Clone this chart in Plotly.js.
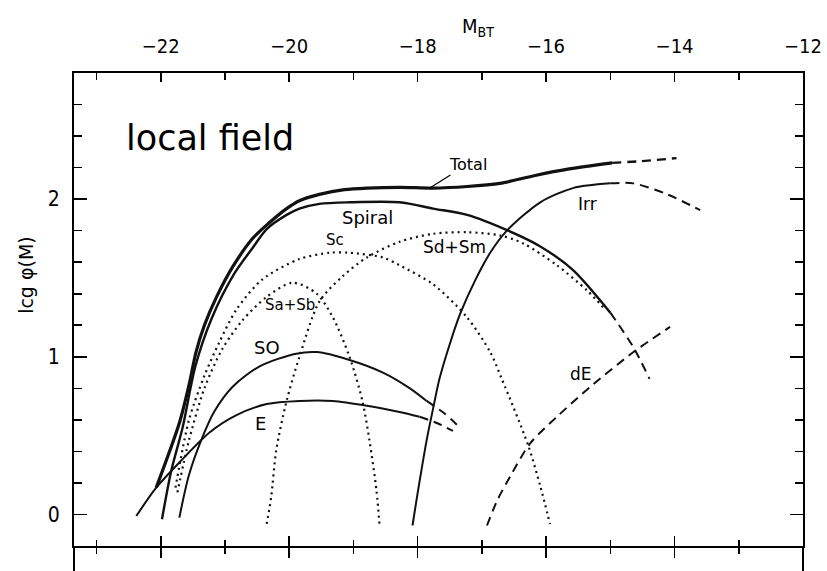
<!DOCTYPE html>
<html>
<head>
<meta charset="utf-8">
<script src="https://cdn.plot.ly/plotly-3.0.1.min.js"></script>
<style>
  html, body { margin: 0; padding: 0; background: #fff; }
  #chart { width: 827px; height: 571px; }
</style>
</head>
<body>
<div id="chart"></div>
<script>
// ---- data ----
const total_x = [-22.07,-21.71,-21.56,-21.45,-21.32,-21.13,-20.88,-20.57,-20.31,-20.04,-19.84,-19.53,-19.14,-18.79,-18.28,-17.76,-17.23,-16.72,-16.17,-15.66,-14.97];
const total_y = [0.17,0.58,0.82,1.03,1.20,1.38,1.57,1.75,1.85,1.94,1.99,2.03,2.06,2.07,2.075,2.07,2.08,2.10,2.15,2.19,2.23];
const total_ext_x = [-14.97,-14.54,-13.97];
const total_ext_y = [2.23,2.24,2.26];

const spiral_x = [-21.98,-21.84,-21.66,-21.46,-21.21,-20.85,-20.57,-20.35,-20.04,-19.84,-19.53,-19.06,-18.28,-17.76,-17.23,-16.59,-16.09,-15.58,-15.00];
const spiral_y = [-0.03,0.27,0.55,0.94,1.24,1.53,1.69,1.81,1.90,1.94,1.97,1.98,1.98,1.94,1.90,1.80,1.70,1.55,1.28];
const spiral_ext_x = [-15.00,-14.64,-14.39];
const spiral_ext_y = [1.28,1.06,0.86];

const sc_x = [-21.77,-21.56,-21.32,-21.09,-20.82,-20.42,-19.84,-19.37,-19.06,-18.54,-18.28,-17.76,-17.23,-16.87,-16.70,-16.28,-16.09,-15.94];
const sc_y = [0.17,0.60,0.88,1.09,1.30,1.49,1.62,1.66,1.66,1.63,1.58,1.46,1.25,1.03,0.87,0.44,0.18,-0.06];

const sasb_x = [-21.74,-21.56,-21.32,-21.04,-20.73,-20.35,-19.95,-19.57,-19.32,-19.06,-18.86,-18.75,-18.64,-18.59];
const sasb_y = [0.14,0.47,0.80,1.05,1.23,1.38,1.47,1.40,1.25,1.00,0.72,0.47,0.15,-0.08];

const sdsm_x = [-20.35,-20.28,-20.20,-20.04,-19.84,-19.53,-19.17,-18.79,-18.28,-17.76,-17.23,-16.72,-16.36,-15.83,-15.36,-15.08];
const sdsm_y = [-0.06,0.11,0.41,0.72,1.00,1.35,1.51,1.63,1.73,1.78,1.79,1.77,1.72,1.58,1.42,1.30];

const s0_x = [-21.71,-21.56,-21.35,-21.17,-20.88,-20.46,-19.89,-19.57,-19.06,-18.54,-18.12,-17.86];
const s0_y = [-0.02,0.25,0.49,0.65,0.81,0.94,1.02,1.03,0.98,0.90,0.80,0.72];
const s0_ext_x = [-17.86,-17.58,-17.34];
const s0_ext_y = [0.72,0.64,0.55];

const e_x = [-22.38,-22.07,-21.71,-21.24,-20.82,-20.35,-19.84,-19.32,-18.79,-18.28,-17.97];
const e_y = [-0.01,0.17,0.33,0.52,0.63,0.70,0.72,0.72,0.69,0.65,0.62];
const e_ext_x = [-17.97,-17.70,-17.45];
const e_ext_y = [0.62,0.58,0.53];

const irr_x = [-18.08,-18.01,-17.86,-17.76,-17.66,-17.50,-17.34,-17.11,-16.87,-16.61,-16.09,-15.58,-15.00];
const irr_y = [-0.07,0.11,0.47,0.67,0.86,1.08,1.27,1.48,1.66,1.80,1.98,2.07,2.10];
const irr_ext_x = [-15.00,-14.64,-14.11,-13.60];
const irr_ext_y = [2.10,2.10,2.03,1.93];

const de_x = [-16.92,-16.76,-16.56,-16.25,-15.83,-15.31,-14.64,-14.07];
const de_y = [-0.07,0.09,0.24,0.45,0.62,0.81,1.03,1.19];

// label texts and anchor points (data coordinates)
const label_text = ["Spiral","Sc","Sd+Sm","Sa+Sb","SO","E","Irr","dE"];
const label_x    = [-18.78,-19.28,-17.42,-19.99,-20.35,-20.45,-15.36,-15.45];
const label_y    = [1.886,1.74,1.695,1.327,1.06,0.578,1.968,0.889];
const label_size = [18,15,17,15,18,18,17,17];

const x_ticks_major = 2;
const y_ticks_major = 1;

// ---- drawing ----
const INK = '#111';
const FONT = 'DejaVu Sans Condensed, DejaVu Sans, sans-serif';
const LFONT = 'DejaVu Sans, sans-serif';
function line(x, y, width, dash) {
  return {x: x, y: y, type: 'scatter', mode: 'lines',
    line: {color: INK, width: width, dash: dash, shape: 'spline', smoothing: 0.8},
    hoverinfo: 'skip', showlegend: false};
}
const DOT = '2px,4px';
const DASH = '9px,6px';
const traces = [
  line(total_x, total_y, 3.2, 'solid'),
  line(total_ext_x, total_ext_y, 2.4, DASH),
  line(spiral_x, spiral_y, 2.4, 'solid'),
  line(spiral_ext_x, spiral_ext_y, 2, DASH),
  line(sc_x, sc_y, 2.2, DOT),
  line(sasb_x, sasb_y, 2.2, DOT),
  line(sdsm_x, sdsm_y, 2.2, DOT),
  line(s0_x, s0_y, 2, 'solid'),
  line(s0_ext_x, s0_ext_y, 2, DASH),
  line(e_x, e_y, 2, 'solid'),
  line(e_ext_x, e_ext_y, 2, DASH),
  line(irr_x, irr_y, 2, 'solid'),
  line(irr_ext_x, irr_ext_y, 2, DASH),
  line(de_x, de_y, 2, DASH),
  {x: [], y: [], xaxis: 'x2', yaxis: 'y', type: 'scatter', showlegend: false},
  {x: [], y: [], xaxis: 'x3', yaxis: 'y', type: 'scatter', showlegend: false},
  {x: [], y: [], xaxis: 'x', yaxis: 'y2', type: 'scatter', showlegend: false}
];

const XR = [-23.35, -12];
const YR = [-0.2, 2.8];
const baseX = {
  range: XR, showgrid: false, zeroline: false, showline: true,
  linecolor: '#000', linewidth: 2, tickcolor: '#000', tickwidth: 1.6,
  tick0: -22, dtick: x_ticks_major, fixedrange: true
};
const baseY = {
  range: YR, showgrid: false, zeroline: false, showline: true,
  linecolor: '#000', linewidth: 2, tickcolor: '#000', tickwidth: 1.6,
  tick0: 0, dtick: y_ticks_major, ticks: 'inside', ticklen: 13,
  minor: {ticks: 'inside', ticklen: 8, dtick: 0.2, tick0: 0, tickcolor: '#000', tickwidth: 1.6},
  fixedrange: true
};

const annotations = label_text.map((t, i) => ({
  x: label_x[i], y: label_y[i], xref: 'x', yref: 'y', text: t, showarrow: false,
  xanchor: 'center', yanchor: 'middle',
  font: {family: LFONT, size: label_size[i], color: '#000'}
}));
annotations.push({
  x: -22.57, y: 2.39, xref: 'x', yref: 'y', xanchor: 'left', yanchor: 'middle', text: 'local field',
  showarrow: false, font: {family: LFONT, size: 35, color: '#000'}
});
annotations.push({
  x: -17.81, y: 2.07, xref: 'x', yref: 'y', text: 'Total', showarrow: true,
  arrowhead: 0, arrowwidth: 1.2, arrowcolor: '#000', ax: 38, ay: -24, standoff: 0,
  font: {family: LFONT, size: 16, color: '#000'}
});
annotations.push({
  x: 0.554, y: 1.097, xref: 'paper', yref: 'paper', xanchor: 'center', yanchor: 'middle',
  text: 'M<sub>BT</sub>', showarrow: false, font: {family: FONT, size: 20, color: '#000'}
});
annotations.push({
  x: -0.066, y: 0.573, xref: 'paper', yref: 'paper', xanchor: 'center', yanchor: 'middle',
  text: 'lcg φ(M)', textangle: -90,
  showarrow: false, font: {family: LFONT, size: 19, color: '#000'}
});

const layout = {
  width: 827, height: 571,
  margin: {l: 74, r: 24, t: 73, b: 25, pad: 0},
  paper_bgcolor: '#fff', plot_bgcolor: '#fff',
  showlegend: false,
  xaxis: Object.assign({}, baseX, {
    side: 'top', ticks: 'inside', ticklen: 9,
    minor: {ticks: 'inside', ticklen: 7, dtick: 1, tick0: -23, tickcolor: '#000', tickwidth: 1.6},
    showticklabels: true, ticklabelstandoff: 10,
    tickfont: {family: FONT, size: 20, color: '#000'}
  }),
  xaxis2: Object.assign({}, baseX, {
    overlaying: 'x', anchor: 'y', side: 'bottom', ticks: 'outside', ticklen: 10,
    minor: {ticks: 'outside', ticklen: 6, dtick: 1, tick0: -23, tickcolor: '#000', tickwidth: 1.6},
    showticklabels: false
  }),
  xaxis3: Object.assign({}, baseX, {
    overlaying: 'x', anchor: 'y', side: 'bottom', ticks: 'inside', ticklen: 10,
    minor: {ticks: 'inside', ticklen: 6, dtick: 1, tick0: -23, tickcolor: '#000', tickwidth: 1.6},
    showticklabels: false
  }),
  yaxis: Object.assign({}, baseY, {
    side: 'left', showticklabels: true, ticklabelstandoff: 8,
    tickfont: {family: FONT, size: 21, color: '#000'}
  }),
  yaxis2: Object.assign({}, baseY, {
    overlaying: 'y', anchor: 'x', side: 'right', showticklabels: false
  }),
  shapes: [
    {type: 'line', xref: 'paper', yref: 'paper', x0: 0, x1: 0, y0: 0, y1: -0.06, line: {color: '#000', width: 2}},
    {type: 'line', xref: 'paper', yref: 'paper', x0: 1, x1: 1, y0: 0, y1: -0.06, line: {color: '#000', width: 2}}
  ],
  annotations: annotations
};

Plotly.newPlot('chart', traces, layout, {staticPlot: true, displayModeBar: false});
</script>
</body>
</html>
